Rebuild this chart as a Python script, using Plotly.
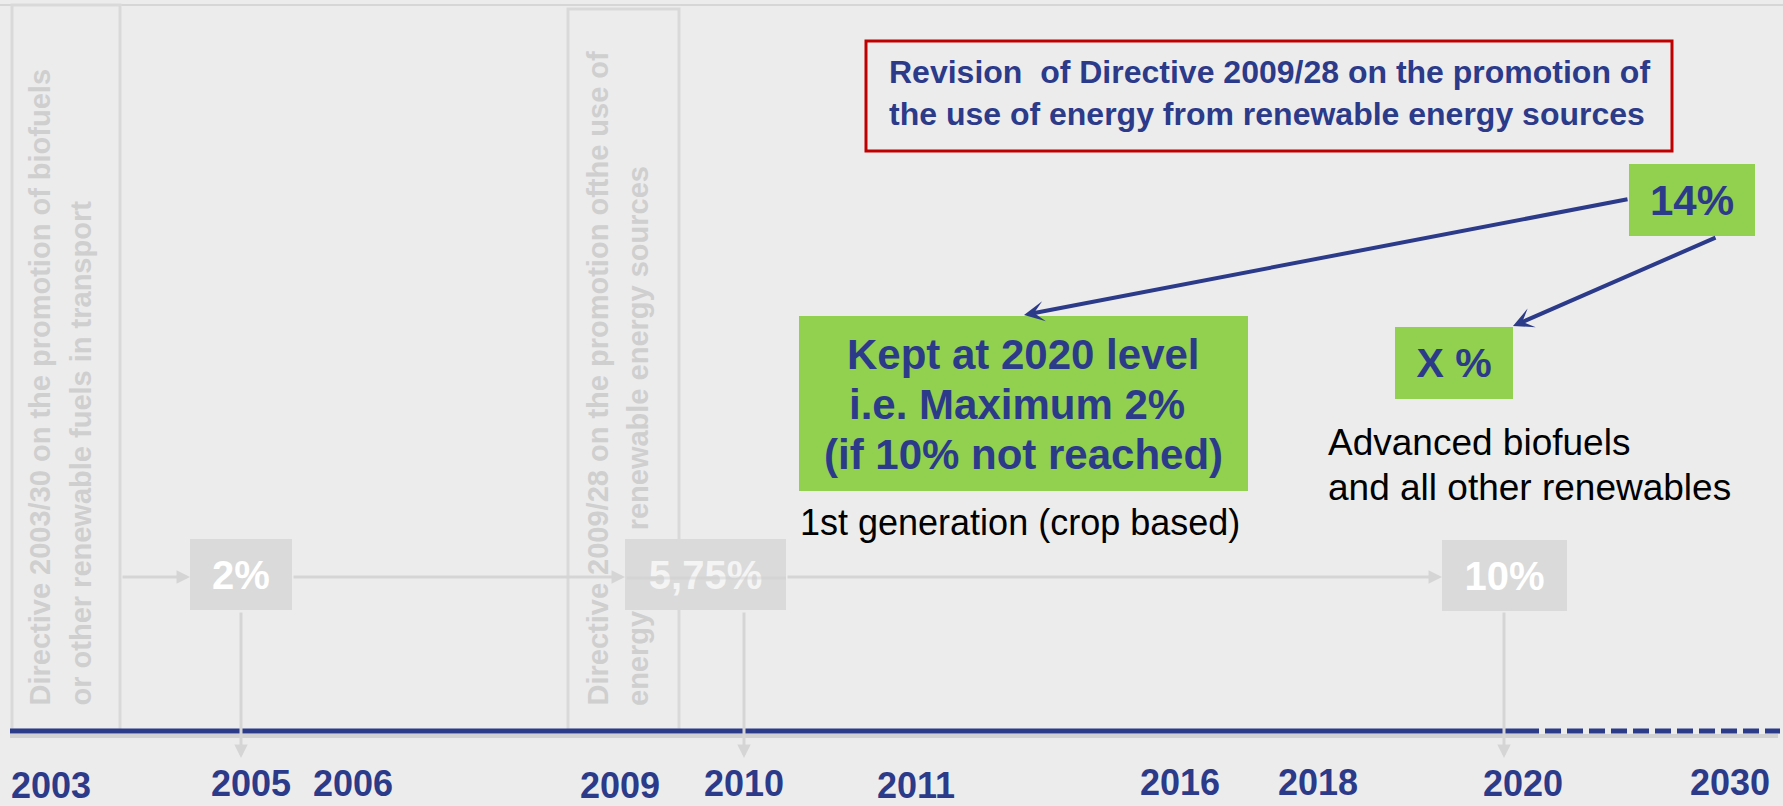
import plotly.graph_objects as go

# ---------------- data ----------------
years = ["2003", "2005", "2006", "2009", "2010", "2011", "2016", "2018", "2020", "2030"]
milestone_targets = ["2%", "5,75%", "10%"]
revision_targets = ["14%", "X %"]
directive_2003_lines = ["Directive 2003/30 on the promotion of biofuels",
                        "or other renewable fuels in transport"]
directive_2009_lines = ["Directive 2009/28 on the promotion ofthe use of",
                        "energy from renewable energy sources"]
revision_lines = ["Revision\u00a0 of Directive 2009/28 on the promotion of",
                  "the use of energy from renewable energy sources"]
crop_box_lines = ["Kept at 2020 level", "i.e. Maximum 2%", "(if 10% not reached)"]
crop_caption = "1st generation (crop based)"
advanced_lines = ["Advanced biofuels", "and all other renewables"]

# ---------------- layout (pixel canvas) ----------------
W, H = 1783, 806
NAVY = "#2c3a8a"
GRAY_TXT = "#cfcfcf"
GRAY_LN = "#d5d5d5"
BOX_GRAY = "#dadada"
GREEN = "#92d050"
BG = "#ececec"
FONT = "Liberation Sans, Arial, sans-serif"

year_x = [51, 251, 353, 620, 744, 916, 1180, 1318, 1523, 1730]
year_y = [788.5, 787, 787, 788.5, 787, 788.5, 786, 786, 787, 786]

fig = go.Figure()

# year labels
fig.add_trace(go.Scatter(
    x=year_x, y=year_y, text=years, mode="text",
    textposition="middle center",
    textfont=dict(family=FONT, size=36, color=NAVY, weight="bold"),
    hoverinfo="skip", showlegend=False))

shapes = []
# top border
shapes.append(dict(type="line", x0=0, x1=W, y0=5, y1=5, line=dict(color="#d6d6d6", width=2)))
# directive boxes
shapes.append(dict(type="rect", x0=12, x1=120, y0=5, y1=730, line=dict(color="#d9d9d9", width=3)))
shapes.append(dict(type="rect", x0=568, x1=679, y0=9, y1=730, line=dict(color="#d9d9d9", width=3)))
# timeline shadow + line
shapes.append(dict(type="line", x0=10, x1=1778, y0=736, y1=736, line=dict(color="#d2d2d2", width=4)))
shapes.append(dict(type="line", x0=10, x1=1523, y0=731, y1=731, line=dict(color=NAVY, width=5)))
shapes.append(dict(type="line", x0=1523, x1=1780, y0=731, y1=731,
                   line=dict(color=NAVY, width=5, dash="16px,6px")))
# red revision box
shapes.append(dict(type="rect", x0=866, x1=1672, y0=41, y1=151, line=dict(color="#c00000", width=3)))
# big green box
shapes.append(dict(type="rect", x0=799, x1=1248, y0=316, y1=491, fillcolor=GREEN, line=dict(width=0)))

ann = []

def text(x, y, t, size, color, bold=False, xanchor="center", yanchor="middle", angle=0):
    ann.append(dict(x=x, y=y, xref="x", yref="y", text=t, showarrow=False,
                    xanchor=xanchor, yanchor=yanchor, textangle=angle,
                    font=dict(family=FONT, size=size, color=color,
                              weight="bold" if bold else "normal")))

def box(cx, cy, w, h, t, size, fg, bg):
    ann.append(dict(x=cx, y=cy, xref="x", yref="y", text=t, showarrow=False,
                    xanchor="center", yanchor="middle", width=w, height=h,
                    bgcolor=bg, borderwidth=0, borderpad=0, align="center", valign="middle",
                    font=dict(family=FONT, size=size, color=fg, weight="bold")))

def arrow(x0, y0, x1, y1, color, width, head, size, opacity=1.0):
    ann.append(dict(x=x1, y=y1, ax=x0, ay=y0, xref="x", yref="y", axref="x", ayref="y",
                    text="", showarrow=True, arrowhead=head, arrowsize=size,
                    arrowwidth=width, arrowcolor=color, standoff=0, startstandoff=0,
                    opacity=opacity, font=dict(size=1)))

# vertical directive texts
text(39, 708, directive_2003_lines[0], 29, GRAY_TXT, True, yanchor="bottom", angle=-90)
text(80, 708, directive_2003_lines[1], 29, GRAY_TXT, True, yanchor="bottom", angle=-90)
text(597, 708, directive_2009_lines[0], 29, GRAY_TXT, True, yanchor="bottom", angle=-90)
text(638, 708, directive_2009_lines[1], 29, GRAY_TXT, True, yanchor="bottom", angle=-90)

# gray milestone boxes
box(241, 574, 102, 71, milestone_targets[0], 40, "#ffffff", BOX_GRAY)
box(705.5, 574.5, 161, 71, milestone_targets[1], 40, "#f4f4f4", BOX_GRAY)
box(1504.5, 575, 125, 71, milestone_targets[2], 40, "#ffffff", BOX_GRAY)

# gray arrows
arrow(121, 577, 190, 577, GRAY_LN, 3, 2, 0.9)
arrow(292, 577, 625, 577, GRAY_LN, 3, 2, 0.9)
arrow(786, 577, 1442, 577, GRAY_LN, 3, 2, 0.9)
arrow(625, 578, 786, 578, "rgba(205,205,205,0.45)", 3, 0, 1)
arrow(241, 611, 241, 758, GRAY_LN, 3, 2, 0.9)
arrow(744, 611, 744, 758, GRAY_LN, 3, 2, 0.9)
arrow(1504, 611, 1504, 758, GRAY_LN, 3, 2, 0.9)

# revision box text
text(887, 72, revision_lines[0], 32, NAVY, True, xanchor="left")
text(887, 114, revision_lines[1], 32, NAVY, True, xanchor="left")

# green boxes
box(1692, 200, 126, 72, revision_targets[0], 42, NAVY, GREEN)
box(1454, 362.5, 118, 72, revision_targets[1], 41, NAVY, GREEN)
text(1023, 354, crop_box_lines[0], 42, NAVY, True)
text(1017, 404, crop_box_lines[1], 42, NAVY, True)
text(1023.5, 454, crop_box_lines[2], 42, NAVY, True)

# captions
text(1020, 522, crop_caption, 36, "#000000")
text(1326, 442, advanced_lines[0], 37, "#000000", xanchor="left")
text(1326, 487, advanced_lines[1], 37, "#000000", xanchor="left")

# navy arrows
arrow(1629, 199, 1024, 315, NAVY, 4, 3, 0.85)
arrow(1717, 237, 1513, 326, NAVY, 4, 3, 0.85)

fig.update_layout(
    width=W, height=H,
    margin=dict(l=0, r=0, t=0, b=0),
    paper_bgcolor=BG, plot_bgcolor=BG,
    xaxis=dict(range=[0, W], visible=False, fixedrange=True),
    yaxis=dict(range=[H, 0], visible=False, fixedrange=True),
    shapes=shapes, annotations=ann, showlegend=False,
)

fig.write_html(
    "out.html",
    config={"displayModeBar": False},
    post_script="document.body.style.margin='0';document.body.style.padding='0';"
                "document.body.style.overflow='hidden';document.body.style.background='#ececec';",
)
